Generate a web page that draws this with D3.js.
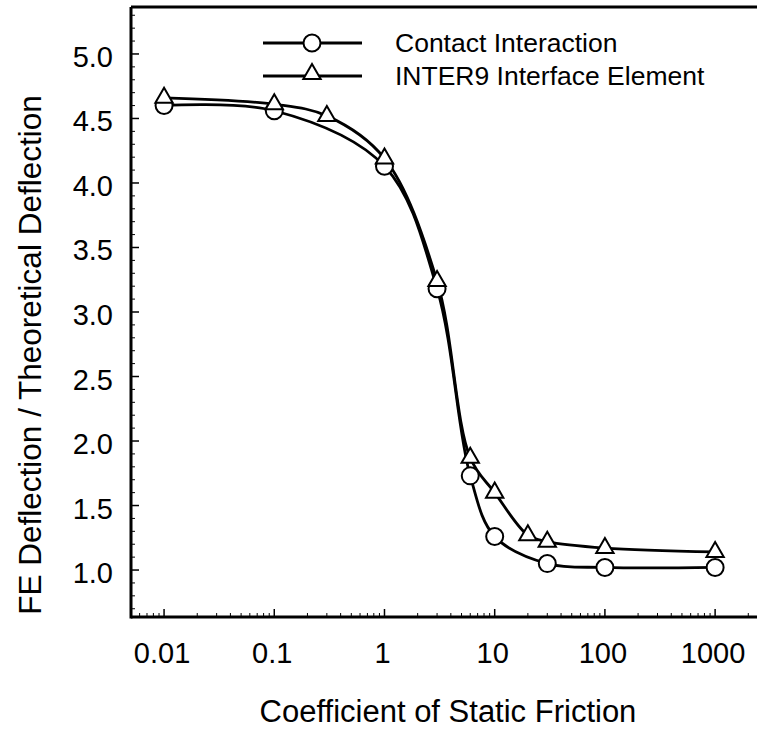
<!DOCTYPE html>
<html>
<head>
<meta charset="utf-8">
<script src="https://cdn.jsdelivr.net/npm/d3@7"></script>
<style>
  body { margin: 0; background: #fff; }
  svg { display: block; }
  text { font-family: "Liberation Sans", Arial, Helvetica, sans-serif; fill: #000; }
</style>
</head>
<body>
<svg id="chart" width="757" height="731"></svg>
<script>
// ---- data ----
const contactX = [0.01, 0.1, 1, 3, 6, 10, 30, 100, 1000];
const contactY = [4.60, 4.56, 4.13, 3.18, 1.73, 1.26, 1.05, 1.02, 1.02];
const inter9X = [0.01, 0.1, 0.3, 1, 3, 6, 10, 20, 30, 100, 1000];
const inter9Y = [4.66, 4.61, 4.52, 4.19, 3.24, 1.87, 1.60, 1.27, 1.22, 1.17, 1.14];
const xTickValues = [0.01, 0.1, 1, 10, 100, 1000];
const xTickLabels = ["0.01", "0.1", "1", "10", "100", "1000"];
const yTickValues = [1.0, 1.5, 2.0, 2.5, 3.0, 3.5, 4.0, 4.5, 5.0];
const yTickLabels = ["1.0", "1.5", "2.0", "2.5", "3.0", "3.5", "4.0", "4.5", "5.0"];
const seriesNames = ["Contact Interaction", "INTER9 Interface Element"];
const xTitle = "Coefficient of Static Friction";
const yTitle = "FE Deflection / Theoretical Deflection";

(function () {
// ---- layout ----
const L = 131, R = 757, T = 7, B = 617;
const svg = d3.select("#chart");

const x = d3.scaleLog().domain([Math.pow(10, -2.3), Math.pow(10, 3.38)]).range([L, R]);
const y = d3.scaleLinear().domain([0.636, 5.364]).range([B, T]);

// minor ticks
const xMinor = [];
for (let e = -3; e <= 3; e++) {
  for (let m = 2; m <= 9; m++) {
    const v = m * Math.pow(10, e);
    if (v > x.domain()[0] && v < x.domain()[1]) xMinor.push(v);
  }
}
const yMinor = d3.range(7, 54).map(d => d / 10).filter(v => yTickValues.indexOf(v) < 0);

const g = svg.append("g");
g.selectAll(".xminor").data(xMinor).enter().append("line")
  .attr("x1", d => x(d)).attr("x2", d => x(d))
  .attr("y1", B).attr("y2", B - 4)
  .attr("stroke", "#000").attr("stroke-width", 1);
g.selectAll(".xmajor").data(xTickValues).enter().append("line")
  .attr("x1", d => x(d)).attr("x2", d => x(d))
  .attr("y1", B).attr("y2", B - 8)
  .attr("stroke", "#000").attr("stroke-width", 1.5);
g.selectAll(".yminor").data(yMinor).enter().append("line")
  .attr("x1", L).attr("x2", L + 4)
  .attr("y1", d => y(d)).attr("y2", d => y(d))
  .attr("stroke", "#000").attr("stroke-width", 1);
g.selectAll(".ymajor").data(yTickValues).enter().append("line")
  .attr("x1", L).attr("x2", L + 8)
  .attr("y1", d => y(d)).attr("y2", d => y(d))
  .attr("stroke", "#000").attr("stroke-width", 1.5);

// axes lines
svg.append("line").attr("x1", L).attr("x2", L).attr("y1", T).attr("y2", B + 1.5)
  .attr("stroke", "#000").attr("stroke-width", 3);
svg.append("line").attr("x1", L).attr("x2", R).attr("y1", B).attr("y2", B)
  .attr("stroke", "#000").attr("stroke-width", 3);
svg.append("line").attr("x1", L).attr("x2", R).attr("y1", T).attr("y2", T)
  .attr("stroke", "#000").attr("stroke-width", 3);

// tick labels
svg.selectAll(".xlab").data(xTickValues).enter().append("text")
  .attr("x", d => x(d) - 2).attr("y", 663)
  .attr("text-anchor", "middle").attr("font-size", 29)
  .text((d, i) => xTickLabels[i]);
svg.selectAll(".ylab").data(yTickValues).enter().append("text")
  .attr("x", 113).attr("y", d => y(d) + 13)
  .attr("text-anchor", "end").attr("font-size", 29)
  .text((d, i) => yTickLabels[i]);

// axis titles
svg.append("text").attr("x", 448).attr("y", 722).attr("text-anchor", "middle")
  .attr("font-size", 31).text(xTitle);
svg.append("text").attr("transform", "translate(41,355) rotate(-90)")
  .attr("text-anchor", "middle").attr("font-size", 31.5).text(yTitle);

// curves
const line = d3.line().x(d => x(d[0])).y(d => y(d[1])).curve(d3.curveCatmullRom.alpha(0.5));
const contact = contactX.map((v, i) => [v, contactY[i]]);
const inter9 = inter9X.map((v, i) => [v, inter9Y[i]]);

svg.append("path").attr("d", line(contact)).attr("fill", "none").attr("stroke", "#000").attr("stroke-width", 2.8);
svg.append("path").attr("d", line(inter9)).attr("fill", "none").attr("stroke", "#000").attr("stroke-width", 2.8);

const tri = d3.symbol().type(d3.symbolTriangle).size(130);

svg.selectAll(".circ").data(contact).enter().append("circle")
  .attr("cx", d => x(d[0])).attr("cy", d => y(d[1])).attr("r", 8.5)
  .attr("fill", "#fff").attr("stroke", "#000").attr("stroke-width", 2);
svg.selectAll(".tri").data(inter9).enter().append("path")
  .attr("d", tri).attr("transform", d => `translate(${x(d[0])},${y(d[1])})`)
  .attr("fill", "#fff").attr("stroke", "#000").attr("stroke-width", 2);

// legend
const lg = svg.append("g");
lg.append("line").attr("x1", 263).attr("x2", 362).attr("y1", 43).attr("y2", 43).attr("stroke", "#000").attr("stroke-width", 2.8);
lg.append("circle").attr("cx", 312).attr("cy", 43).attr("r", 8.5).attr("fill", "#fff").attr("stroke", "#000").attr("stroke-width", 2);
lg.append("line").attr("x1", 263).attr("x2", 362).attr("y1", 76).attr("y2", 76).attr("stroke", "#000").attr("stroke-width", 2.8);
lg.append("path").attr("d", tri).attr("transform", "translate(312,74)").attr("fill", "#fff").attr("stroke", "#000").attr("stroke-width", 2);
lg.append("text").attr("x", 395).attr("y", 52).attr("font-size", 26.5).text(seriesNames[0]);
lg.append("text").attr("x", 395).attr("y", 85).attr("font-size", 26.5).text(seriesNames[1]);
})();
</script>
</body>
</html>
